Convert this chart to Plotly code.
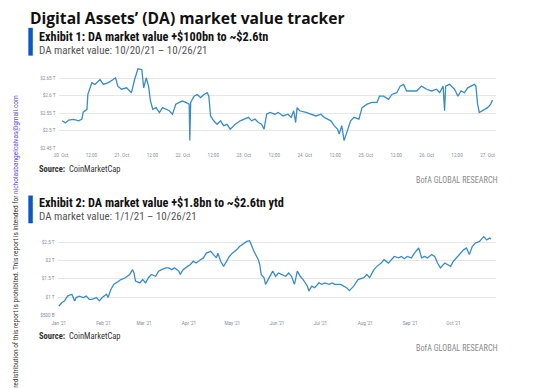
import plotly.graph_objects as go

# page body has an 8px default margin: the figure is sized to fit the window
OFF = 8
W, H = 555 - OFF, 388 - OFF

# ---------- Exhibit 1 data (intraday, 10/20/21 - 10/27/21), $T ----------
e1_times = [
    "2021-10-20 00:30", "2021-10-20 01:45", "2021-10-20 03:00", "2021-10-20 05:00", "2021-10-20 07:00",
    "2021-10-20 08:15", "2021-10-20 08:45", "2021-10-20 10:15", "2021-10-20 10:35", "2021-10-20 11:30",
    "2021-10-20 12:10", "2021-10-20 13:25", "2021-10-20 15:25", "2021-10-20 16:40", "2021-10-20 18:40",
    "2021-10-20 20:35", "2021-10-20 21:30", "2021-10-20 22:25", "2021-10-20 23:50", "2021-10-21 01:50",
    "2021-10-21 03:05", "2021-10-21 03:45", "2021-10-21 05:00", "2021-10-21 06:20", "2021-10-21 07:50",
    "2021-10-21 08:35", "2021-10-21 09:35", "2021-10-21 10:30", "2021-10-21 11:15", "2021-10-21 12:10",
    "2021-10-21 13:30", "2021-10-21 14:45", "2021-10-21 16:00", "2021-10-21 17:25", "2021-10-21 18:40",
    "2021-10-21 19:55", "2021-10-21 21:15", "2021-10-21 22:35", "2021-10-21 23:50", "2021-10-22 01:10",
    "2021-10-22 02:30", "2021-10-22 02:45", "2021-10-22 03:05", "2021-10-22 04:25", "2021-10-22 05:40",
    "2021-10-22 07:00", "2021-10-22 08:20", "2021-10-22 09:35", "2021-10-22 10:15", "2021-10-22 10:55",
    "2021-10-22 12:10", "2021-10-22 13:30", "2021-10-22 14:50", "2021-10-22 16:05", "2021-10-22 17:25",
    "2021-10-22 18:40", "2021-10-22 20:40", "2021-10-22 22:35", "2021-10-23 00:30", "2021-10-23 01:50",
    "2021-10-23 03:05", "2021-10-23 04:25", "2021-10-23 05:45", "2021-10-23 07:00", "2021-10-23 08:00",
    "2021-10-23 09:00", "2021-10-23 10:20", "2021-10-23 12:15", "2021-10-23 13:30", "2021-10-23 15:30",
    "2021-10-23 17:25", "2021-10-23 18:40", "2021-10-23 19:40", "2021-10-23 20:25", "2021-10-23 21:00",
    "2021-10-23 22:00", "2021-10-24 00:30", "2021-10-24 02:30", "2021-10-24 04:25", "2021-10-24 06:25",
    "2021-10-24 07:40", "2021-10-24 09:00", "2021-10-24 10:20", "2021-10-24 11:35", "2021-10-24 12:55",
    "2021-10-24 13:35", "2021-10-24 14:35", "2021-10-24 15:30", "2021-10-24 16:50", "2021-10-24 18:05",
    "2021-10-24 19:25", "2021-10-24 21:20", "2021-10-24 22:35", "2021-10-25 00:35", "2021-10-25 02:30",
    "2021-10-25 04:30", "2021-10-25 05:25", "2021-10-25 07:05", "2021-10-25 09:00", "2021-10-25 10:20",
    "2021-10-25 12:15", "2021-10-25 13:35", "2021-10-25 14:55", "2021-10-25 16:10", "2021-10-25 18:10",
    "2021-10-25 20:05", "2021-10-25 22:00", "2021-10-26 00:00", "2021-10-26 01:55", "2021-10-26 03:55",
    "2021-10-26 05:10", "2021-10-26 06:30", "2021-10-26 07:05", "2021-10-26 07:30", "2021-10-26 09:00",
    "2021-10-26 11:00", "2021-10-26 12:20", "2021-10-26 13:35", "2021-10-26 14:55", "2021-10-26 16:10",
    "2021-10-26 17:30", "2021-10-26 18:50", "2021-10-26 19:25", "2021-10-26 20:05", "2021-10-26 20:45",
    "2021-10-26 22:00", "2021-10-27 00:00", "2021-10-27 01:15", "2021-10-27 01:55",
]
e1_values = [
    2.528, 2.522, 2.530, 2.532, 2.528,
    2.533, 2.553, 2.561, 2.604, 2.628,
    2.638, 2.633, 2.647, 2.633, 2.638,
    2.647, 2.652, 2.628, 2.619, 2.623,
    2.614, 2.609, 2.647, 2.678, 2.676,
    2.623, 2.652, 2.628, 2.585, 2.561,
    2.566, 2.552, 2.566, 2.561, 2.557,
    2.547, 2.576, 2.581, 2.585, 2.581,
    2.576, 2.471, 2.581, 2.599, 2.604,
    2.595, 2.604, 2.609, 2.599, 2.542,
    2.528, 2.518, 2.528, 2.514, 2.518,
    2.504, 2.518, 2.528, 2.533, 2.538,
    2.528, 2.533, 2.523, 2.518, 2.504,
    2.547, 2.552, 2.547, 2.552, 2.542,
    2.547, 2.538, 2.557, 2.523, 2.566,
    2.557, 2.552, 2.547, 2.542, 2.547,
    2.538, 2.533, 2.528, 2.514, 2.504,
    2.490, 2.514, 2.471, 2.504, 2.528,
    2.538, 2.533, 2.566, 2.576, 2.581,
    2.581, 2.599, 2.599, 2.590, 2.604,
    2.609, 2.628, 2.633, 2.614, 2.614,
    2.614, 2.628, 2.619, 2.614, 2.619,
    2.609, 2.628, 2.557, 2.628, 2.633,
    2.619, 2.599, 2.614, 2.609, 2.623,
    2.628, 2.633, 2.628, 2.576, 2.552,
    2.557, 2.566, 2.576, 2.588,
]
e1_tickvals = ["2021-10-20 00:00", "2021-10-20 12:00", "2021-10-21 00:00", "2021-10-21 12:00",
               "2021-10-22 00:00", "2021-10-22 12:00", "2021-10-23 00:00", "2021-10-23 12:00",
               "2021-10-24 00:00", "2021-10-24 12:00", "2021-10-25 00:00", "2021-10-25 12:00",
               "2021-10-26 00:00", "2021-10-26 12:00", "2021-10-27 00:00"]
e1_ticktext = ["20. Oct", "12:00", "21. Oct", "12:00", "22. Oct", "12:00", "23. Oct", "12:00",
               "24. Oct", "12:00", "25. Oct", "12:00", "26. Oct", "12:00", "27. Oct"]
e1_ytickvals = [2.45, 2.50, 2.55, 2.60, 2.65]
e1_yticktext = ["$2.45 T", "$2.5 T", "$2.55 T", "$2.6 T", "$2.65 T"]

# ---------- Exhibit 2 data (YTD 2021), $T ----------
e2_dates = [
    "2021-01-01", "2021-01-03", "2021-01-05", "2021-01-07", "2021-01-10", "2021-01-12", "2021-01-13",
    "2021-01-15", "2021-01-18", "2021-01-20", "2021-01-22", "2021-01-24", "2021-01-27", "2021-01-29",
    "2021-01-31", "2021-02-03", "2021-02-04", "2021-02-06", "2021-02-08", "2021-02-11", "2021-02-13",
    "2021-02-16", "2021-02-19", "2021-02-21", "2021-02-22", "2021-02-23", "2021-02-26", "2021-02-28",
    "2021-03-02", "2021-03-04", "2021-03-06", "2021-03-09", "2021-03-11", "2021-03-13", "2021-03-16",
    "2021-03-18", "2021-03-20", "2021-03-22", "2021-03-25", "2021-03-26", "2021-03-28", "2021-03-31",
    "2021-04-02", "2021-04-04", "2021-04-06", "2021-04-09", "2021-04-11", "2021-04-13", "2021-04-16",
    "2021-04-18", "2021-04-20", "2021-04-21", "2021-04-23", "2021-04-25", "2021-04-27", "2021-04-29",
    "2021-05-01", "2021-05-04", "2021-05-06", "2021-05-08", "2021-05-11", "2021-05-13", "2021-05-14",
    "2021-05-16", "2021-05-19", "2021-05-20", "2021-05-21", "2021-05-23", "2021-05-24", "2021-05-27",
    "2021-05-29", "2021-05-31", "2021-06-02", "2021-06-04", "2021-06-07", "2021-06-09", "2021-06-11",
    "2021-06-13", "2021-06-15", "2021-06-17", "2021-06-19", "2021-06-22", "2021-06-23", "2021-06-25",
    "2021-06-27", "2021-06-30", "2021-07-02", "2021-07-04", "2021-07-07", "2021-07-09", "2021-07-11",
    "2021-07-15", "2021-07-17", "2021-07-19", "2021-07-21", "2021-07-24", "2021-07-27", "2021-07-31",
    "2021-08-02", "2021-08-04", "2021-08-07", "2021-08-09", "2021-08-12", "2021-08-14", "2021-08-17",
    "2021-08-19", "2021-08-21", "2021-08-24", "2021-08-26", "2021-08-28", "2021-08-30", "2021-09-02",
    "2021-09-04", "2021-09-07", "2021-09-09", "2021-09-11", "2021-09-13", "2021-09-16", "2021-09-18",
    "2021-09-20", "2021-09-22", "2021-09-25", "2021-09-27", "2021-09-29", "2021-10-01", "2021-10-04",
    "2021-10-06", "2021-10-08", "2021-10-10", "2021-10-12", "2021-10-14", "2021-10-16", "2021-10-19",
    "2021-10-22", "2021-10-24", "2021-10-26", "2021-10-27",
]
e2_values = [
    0.76, 0.85, 0.90, 1.03, 1.08, 0.90, 0.99,
    1.03, 0.99, 1.03, 0.94, 0.94, 0.99, 0.90,
    0.99, 1.08, 0.99, 1.21, 1.35, 1.44, 1.48,
    1.53, 1.62, 1.75, 1.66, 1.44, 1.39, 1.48,
    1.39, 1.53, 1.62, 1.57, 1.71, 1.75, 1.80,
    1.80, 1.75, 1.80, 1.71, 1.62, 1.75, 1.84,
    1.89, 1.98, 1.93, 2.02, 2.07, 2.20, 2.25,
    2.16, 2.07, 2.20, 1.98, 1.84, 1.98, 2.11,
    2.20, 2.29, 2.38, 2.43, 2.52, 2.54, 2.43,
    2.25, 2.02, 1.89, 1.62, 1.53, 1.35, 1.57,
    1.71, 1.57, 1.66, 1.62, 1.57, 1.66, 1.57,
    1.35, 1.71, 1.57, 1.48, 1.30, 1.17, 1.30,
    1.26, 1.39, 1.35, 1.39, 1.35, 1.39, 1.35,
    1.35, 1.30, 1.26, 1.18, 1.30, 1.48, 1.53,
    1.62, 1.53, 1.75, 1.84, 1.93, 2.02, 1.93,
    2.02, 2.11, 2.07, 2.11, 2.05, 2.11, 2.07,
    2.20, 2.34, 2.07, 2.11, 2.07, 2.16, 2.11,
    1.93, 1.80, 1.93, 1.89, 1.84, 1.98, 2.11,
    2.20, 2.29, 2.34, 2.16, 2.38, 2.47, 2.52,
    2.65, 2.56, 2.61, 2.59,
]
e2_tickvals = ["2021-01-01", "2021-02-01", "2021-03-01", "2021-04-01", "2021-05-01",
               "2021-06-01", "2021-07-01", "2021-08-01", "2021-09-01", "2021-10-01"]
e2_ticktext = ["Jan '21", "Feb '21", "Mar '21", "Apr '21", "May '21",
               "Jun '21", "Jul '21", "Aug '21", "Sep '21", "Oct '21"]
e2_ytickvals = [0.5, 1.0, 1.5, 2.0, 2.5]
e2_yticktext = ["$500 B", "$1 T", "$1.5 T", "$2 T", "$2.5 T"]

LINE = "#3a8cc7"
GRID = "#e6e6e6"
TICKC = "#7f8c99"


def px(x):
    return (x - OFF) / W


def py(y):
    return 1 - (y - OFF) / H


fig = go.Figure()
fig.add_trace(go.Scatter(x=e1_times, y=e1_values, mode="lines",
                         line=dict(color=LINE, width=1.3), xaxis="x", yaxis="y",
                         showlegend=False, hoverinfo="x+y"))
fig.add_trace(go.Scatter(x=e2_dates, y=e2_values, mode="lines",
                         line=dict(color=LINE, width=1.3), xaxis="x2", yaxis="y2",
                         showlegend=False, hoverinfo="x+y"))

tickfont = dict(family="Roboto, Arial, sans-serif", size=4.6, color=TICKC)

fig.update_layout(
    width=W, height=H,
    margin=dict(l=0, r=0, t=0, b=0),
    paper_bgcolor="white", plot_bgcolor="white",
    xaxis=dict(domain=[px(53), px(495)], anchor="y", type="date",
               range=["2021-10-19 23:02", "2021-10-27 03:12"],
               tickmode="array", tickvals=e1_tickvals, ticktext=e1_ticktext,
               showgrid=False, zeroline=False, showline=False, ticks="",
               tickfont=tickfont, ticklabelstandoff=4),
    yaxis=dict(domain=[py(149), py(64)], anchor="x",
               range=[2.45, 2.693], tickmode="array",
               tickvals=e1_ytickvals, ticktext=e1_yticktext,
               showgrid=True, gridcolor=GRID, gridwidth=1, zeroline=False,
               showline=False, ticks="", tickfont=tickfont, ticklabelstandoff=2),
    xaxis2=dict(domain=[px(52), px(495)], anchor="y2", type="date",
                range=["2020-12-31 02:00", "2021-10-30 05:00"],
                tickmode="array", tickvals=e2_tickvals, ticktext=e2_ticktext,
                showgrid=False, zeroline=False, showline=False, ticks="",
                tickfont=tickfont, ticklabelstandoff=4),
    yaxis2=dict(domain=[py(318), py(235)], anchor="x2",
                range=[0.5, 2.743], tickmode="array",
                tickvals=e2_ytickvals, ticktext=e2_yticktext,
                showgrid=True, gridcolor=GRID, gridwidth=1, zeroline=False,
                showline=False, ticks="", tickfont=tickfont, ticklabelstandoff=2),
)

BLUE = "#0b57c6"
fig.add_shape(type="rect", xref="paper", yref="paper",
              x0=px(22.5), x1=px(27), y0=py(56), y1=py(28),
              fillcolor=BLUE, line=dict(width=0))
fig.add_shape(type="rect", xref="paper", yref="paper",
              x0=px(22.5), x1=px(27), y0=py(225), y1=py(197),
              fillcolor=BLUE, line=dict(width=0))

COND = "'Liberation Sans Narrow', 'Roboto Condensed', 'Arial Narrow', Roboto, sans-serif"


def text(x, y, s, size, color="#111", family=COND, xanchor="left"):
    fig.add_annotation(x=px(x), y=py(y), xref="paper", yref="paper", text=s,
                       showarrow=False, xanchor=xanchor, yanchor="middle",
                       borderpad=0,
                       font=dict(family=family, size=size, color=color))


text(23, 18.5, "<b>Digital Assets’ (DA) market value tracker</b>", 15.6, "#111",
     "'Open Sans', Roboto, sans-serif")
text(32, 37, "<b>Exhibit 1: DA market value +$100bn to ~$2.6tn</b>", 12.3)
text(32, 50.5, "DA market value: 10/20/21 – 10/26/21", 11.0, "#555")
text(32, 170, "<b>Source:</b>  CoinMarketCap", 8.5, "#333")
text(498, 181, "BofA GLOBAL RESEARCH", 8.2, "#8a8a8a", xanchor="right")

text(32, 204.5, "<b>Exhibit 2: DA market value +$1.8bn to ~$2.6tn ytd</b>", 12.3)
text(32, 218.5, "DA market value: 1/1/21 – 10/26/21", 11.0, "#555")
text(32, 339, "<b>Source:</b>  CoinMarketCap", 8.5, "#333")
text(498, 351, "BofA GLOBAL RESEARCH", 8.2, "#8a8a8a", xanchor="right")

fig.add_annotation(
    x=px(10), y=py(93), xref="paper", yref="paper", showarrow=False,
    textangle=-90, xanchor="center", yanchor="top",
    text="redistribution of this report is prohibited. This report is intended for "
         "<span style='color:#5b4bd6'>nicholasbangelcalvas@gmail.com</span>",
    font=dict(family="Roboto, Arial, sans-serif", size=6.5, color="#333"))

fig.write_html("out.html")
